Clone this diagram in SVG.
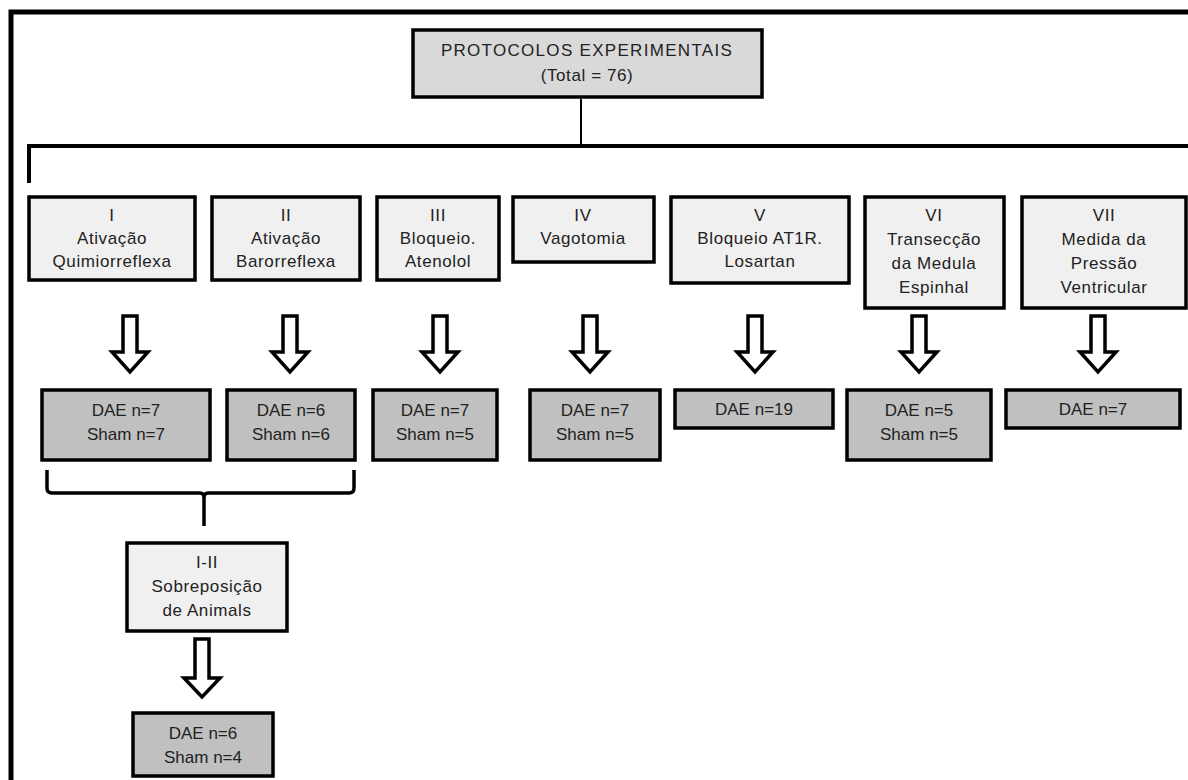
<svg xmlns="http://www.w3.org/2000/svg" width="1188" height="780" viewBox="0 0 1188 780">
<style>
.t{font-family:"Liberation Sans",Arial,sans-serif;font-size:17px;fill:#222;text-anchor:middle}
.s{letter-spacing:0.6px}
.top{fill:#d9d9d9;stroke:#000;stroke-width:3.5}
.p{fill:#f0f0f0;stroke:#000;stroke-width:3.5}
.r{fill:#c0c0c0;stroke:#000;stroke-width:3.5}
.ln{stroke:#000;fill:none}
.ar{fill:#fff;stroke:#000;stroke-width:3.5;stroke-linejoin:miter}
</style>
<rect width="1188" height="780" fill="#fff"/>
<g id="frame">
<path class="ln" d="M11,780 V12 H1188" stroke-width="5"/>
</g>
<g id="connectors">
<path class="ln" d="M581,99 V146" stroke-width="2"/>
<path class="ln" d="M29,183 V146 H1188" stroke-width="4"/>
<path class="ln" d="M47,470 V488 Q47,493 52,493 H200 Q204,493 204,498 V526 M204,498 Q204,493 208,493 H349 Q354,493 354,488 V470" stroke-width="3.5"/>
<path class="ar" d="M123,316 H137 V352 H148 L130,372 L112,352 H123 Z"/>
<path class="ar" d="M283,316 H297 V352 H308 L290,372 L272,352 H283 Z"/>
<path class="ar" d="M433,316 H447 V352 H458 L440,372 L422,352 H433 Z"/>
<path class="ar" d="M583,316 H597 V352 H608 L590,372 L572,352 H583 Z"/>
<path class="ar" d="M748,316 H762 V352 H773 L755,372 L737,352 H748 Z"/>
<path class="ar" d="M912,316 H926 V352 H937 L919,372 L901,352 H912 Z"/>
<path class="ar" d="M1091,316 H1105 V352 H1116 L1098,372 L1080,352 H1091 Z"/>
<path class="ar" d="M195,639 H209 V678 H220 L202,697 L184,678 H195 Z"/>
</g>
<g id="top">
<rect class="top" x="413" y="30" width="349" height="67"/>
<text class="t" x="587" y="56" letter-spacing="1.3">PROTOCOLOS EXPERIMENTAIS</text>
<text class="t s" x="587" y="81">(Total = 76)</text>
</g>
<g id="p1">
<rect class="p" x="29" y="197" width="166" height="83"/>
<text class="t s" x="112" y="221">I</text>
<text class="t s" x="112" y="244">Ativação</text>
<text class="t s" x="112" y="267">Quimiorreflexa</text>
</g>
<g id="p2">
<rect class="p" x="212" y="197" width="148" height="83"/>
<text class="t s" x="286" y="221">II</text>
<text class="t s" x="286" y="244">Ativação</text>
<text class="t s" x="286" y="267">Barorreflexa</text>
</g>
<g id="p3">
<rect class="p" x="377" y="197" width="122" height="83"/>
<text class="t s" x="438" y="221">III</text>
<text class="t s" x="438" y="244">Bloqueio.</text>
<text class="t s" x="438" y="267">Atenolol</text>
</g>
<g id="p4">
<rect class="p" x="513" y="197" width="141" height="65"/>
<text class="t s" x="583" y="221">IV</text>
<text class="t s" x="583" y="244">Vagotomia</text>
</g>
<g id="p5">
<rect class="p" x="671" y="197" width="178" height="86"/>
<text class="t s" x="760" y="221">V</text>
<text class="t s" x="760" y="244">Bloqueio AT1R.</text>
<text class="t s" x="760" y="267">Losartan</text>
</g>
<g id="p6">
<rect class="p" x="865" y="197" width="139" height="111"/>
<text class="t s" x="934" y="221">VI</text>
<text class="t s" x="934" y="245">Transecção</text>
<text class="t s" x="934" y="269">da Medula</text>
<text class="t s" x="934" y="293">Espinhal</text>
</g>
<g id="p7">
<rect class="p" x="1022" y="197" width="164" height="111"/>
<text class="t s" x="1104" y="221">VII</text>
<text class="t s" x="1104" y="245">Medida da</text>
<text class="t s" x="1104" y="269">Pressão</text>
<text class="t s" x="1104" y="293">Ventricular</text>
</g>
<g id="r1">
<rect class="r" x="42" y="390" width="168" height="70"/>
<text class="t" x="126" y="416">DAE n=7</text>
<text class="t" x="126" y="440">Sham n=7</text>
</g>
<g id="r2">
<rect class="r" x="227" y="390" width="128" height="70"/>
<text class="t" x="291" y="416">DAE n=6</text>
<text class="t" x="291" y="440">Sham n=6</text>
</g>
<g id="r3">
<rect class="r" x="373" y="390" width="124" height="70"/>
<text class="t" x="435" y="416">DAE n=7</text>
<text class="t" x="435" y="440">Sham n=5</text>
</g>
<g id="r4">
<rect class="r" x="530" y="390" width="130" height="70"/>
<text class="t" x="595" y="416">DAE n=7</text>
<text class="t" x="595" y="440">Sham n=5</text>
</g>
<g id="r5">
<rect class="r" x="675" y="390" width="158" height="38"/>
<text class="t" x="754" y="415">DAE n=19</text>
</g>
<g id="r6">
<rect class="r" x="847" y="390" width="144" height="70"/>
<text class="t" x="919" y="416">DAE n=5</text>
<text class="t" x="919" y="440">Sham n=5</text>
</g>
<g id="r7">
<rect class="r" x="1006" y="390" width="174" height="38"/>
<text class="t" x="1093" y="415">DAE n=7</text>
</g>
<g id="p12">
<rect class="p" x="127" y="543" width="160" height="88"/>
<text class="t s" x="207" y="568">I-II</text>
<text class="t s" x="207" y="592">Sobreposição</text>
<text class="t s" x="207" y="616">de Animals</text>
</g>
<g id="r12">
<rect class="r" x="133" y="713" width="140" height="63"/>
<text class="t" x="203" y="739">DAE n=6</text>
<text class="t" x="203" y="763">Sham n=4</text>
</g>
</svg>
